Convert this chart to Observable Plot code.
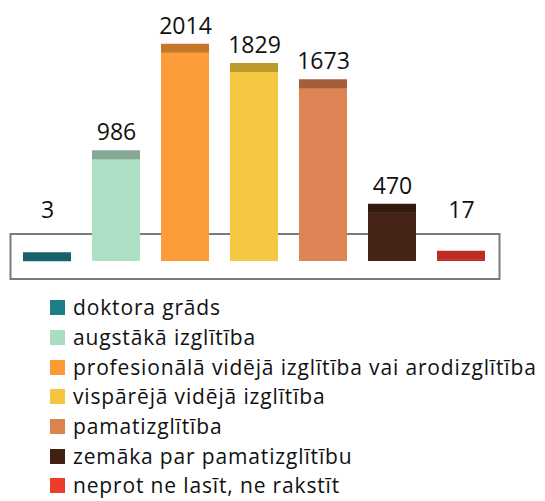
<!DOCTYPE html>
<html>
<head>
<meta charset="utf-8">
<script src="https://cdn.jsdelivr.net/npm/d3@7"></script>
<script src="https://cdn.jsdelivr.net/npm/@observablehq/plot@0.6"></script>
<style>
  html, body { margin: 0; padding: 0; background: #fff; overflow: hidden; }
  #chart svg { display: block; }
  .legend { padding: 3px 0 0 50px; font-family: "Open Sans", Lato, sans-serif; font-size: 21px; letter-spacing: 0.85px; color: #111; }
  .row { display: flex; align-items: center; height: 29.7px; white-space: nowrap; line-height: 19px; }
  .sw { width: 15px; height: 15px; margin-right: 8px; flex: none; }
</style>
</head>
<body>
<div id="chart"></div>
<script>
const categories = [
  "doktora grāds",
  "augstākā izglītība",
  "profesionālā vidējā izglītība vai arodizglītība",
  "vispārējā vidējā izglītība",
  "pamatizglītība",
  "zemāka par pamatizglītību",
  "neprot ne lasīt, ne rakstīt"
];
const values = [3, 986, 2014, 1829, 1673, 470, 17];
const legendColors = ["#1b7f87", "#a9dcc3", "#fd9a35", "#f4c53e", "#dc8350", "#43200f", "#ef3b2c"];
const bodyColors = ["#17636b", "#addfc5", "#fd9d3a", "#f5c842", "#dc8453", "#452317", "#c0302a"];
const capColors = ["#17636b", "#86a893", "#c7772b", "#bd9a30", "#a55e3c", "#321a0f", "#be2d24"];

const data = categories.map((c, i) => ({cat: c, value: values[i], body: bodyColors[i], cap: capColors[i]}));

const H = 290;
const chart = Plot.plot({
  width: 545,
  height: H,
  marginTop: 233.5,
  marginBottom: H - 278.5,
  marginLeft: 10,
  marginRight: 46,
  style: {fontFamily: "'Open Sans', Lato, sans-serif", background: "#fff"},
  x: {domain: categories, paddingInner: 0.3, paddingOuter: 0.158, axis: null},
  y: {domain: [0, 2014], range: [261, 52.3], axis: null},
  color: {type: "identity"},
  marks: [
    Plot.frame({stroke: "#7a7a7a", strokeWidth: 2}),
    Plot.barY(data, {x: "cat", y: "value", fill: "body"}),
    Plot.tickY(data, {x: "cat", y: "value", stroke: "cap", strokeWidth: 9, dy: -4.5}),
    Plot.text(data, {x: "cat", y: d => Math.max(d.value, 232), dy: -26.5, text: d => String(d.value), fontSize: 23, fill: "#111"})
  ]
});
document.getElementById("chart").appendChild(chart);

const legend = document.createElement("div");
legend.className = "legend";
categories.forEach((c, i) => {
  const row = document.createElement("div");
  row.className = "row";
  const sw = document.createElement("span");
  sw.className = "sw";
  sw.style.background = legendColors[i];
  const t = document.createElement("span");
  t.textContent = c;
  row.appendChild(sw);
  row.appendChild(t);
  legend.appendChild(row);
});
document.body.appendChild(legend);
</script>
</body>
</html>
